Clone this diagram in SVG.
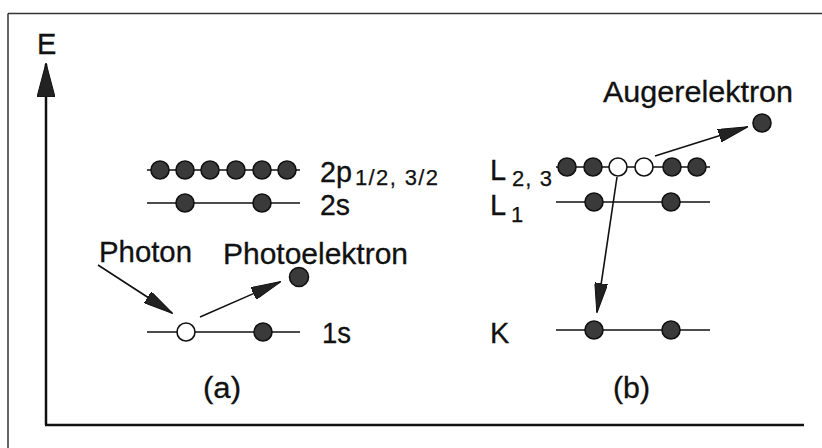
<svg xmlns="http://www.w3.org/2000/svg" width="822" height="448" viewBox="0 0 822 448">
  <style>
    .txt { font-family: "Liberation Sans", Arial, sans-serif; font-size: 29px; fill: #111; stroke: #111; stroke-width: 0.3; }
    .sub { font-family: "Liberation Sans", Arial, sans-serif; font-size: 22px; fill: #111; stroke: #111; stroke-width: 0.25; }
    .level { stroke: #111; stroke-width: 1.6; fill: none; }
    .full { fill: #3a3a3a; stroke: #111; stroke-width: 1.6; }
    .hole { fill: #fff; stroke: #111; stroke-width: 1.6; }
    .arrow { stroke: #111; stroke-width: 1.6; fill: none; marker-end: url(#head); }
  </style>
  <defs>
    <marker id="head" markerUnits="userSpaceOnUse" viewBox="0 0 30 13" refX="29" refY="6.5" markerWidth="30" markerHeight="13" orient="auto">
      <path d="M0,0 L30,6.5 L0,13 Z" fill="#222" stroke="#111" stroke-width="1"/>
    </marker>
    <marker id="axisHead" markerUnits="userSpaceOnUse" viewBox="0 0 34 18" refX="33" refY="9" markerWidth="34" markerHeight="18" orient="auto">
      <path d="M0,0 L34,9 L0,18 Z" fill="#222" stroke="#111" stroke-width="1"/>
    </marker>
  </defs>

  <rect width="822" height="448" fill="#fff"/>

  <!-- outer frame (top and left edges) -->
  <g id="frame" stroke="#333" stroke-width="1.5" fill="none">
    <line x1="8" y1="13.5" x2="822" y2="13.5"/>
    <line x1="8" y1="13.5" x2="8" y2="448"/>
  </g>

  <!-- energy axes -->
  <g id="axes" stroke="#111" stroke-width="2.5" fill="none">
    <line x1="46" y1="425" x2="46" y2="64" marker-end="url(#axisHead)"/>
    <line x1="45" y1="425" x2="804" y2="425"/>
  </g>
  <text id="label-E" class="txt" x="37" y="54">E</text>

  <!-- (a) photoemission -->
  <g id="level-2p">
    <line class="level" x1="147" y1="170" x2="300" y2="170"/>
    <circle class="full" cx="160" cy="170" r="9"/>
    <circle class="full" cx="185" cy="170" r="9"/>
    <circle class="full" cx="210" cy="170" r="9"/>
    <circle class="full" cx="236" cy="170" r="9"/>
    <circle class="full" cx="262" cy="170" r="9"/>
    <circle class="full" cx="287" cy="170" r="9"/>
    <text class="txt" x="320" y="182" textLength="32" lengthAdjust="spacingAndGlyphs">2p</text>
    <text class="sub" x="355" y="185" textLength="83" lengthAdjust="spacing">1/2, 3/2</text>
  </g>
  <g id="level-2s">
    <line class="level" x1="147" y1="203" x2="300" y2="203"/>
    <circle class="full" cx="185" cy="203" r="9"/>
    <circle class="full" cx="262" cy="203" r="9"/>
    <text class="txt" x="320" y="215" textLength="30" lengthAdjust="spacingAndGlyphs">2s</text>
  </g>
  <g id="level-1s">
    <line class="level" x1="147" y1="332" x2="300" y2="332"/>
    <circle class="hole" cx="186" cy="332" r="9"/>
    <circle class="full" cx="263" cy="332" r="9"/>
    <text class="txt" x="322" y="343" textLength="29" lengthAdjust="spacingAndGlyphs">1s</text>
  </g>
  <g id="photon">
    <text class="txt" x="99" y="262" textLength="93" lengthAdjust="spacingAndGlyphs">Photon</text>
  </g>
  <g id="photoelectron">
    <text class="txt" x="223" y="264" textLength="185" lengthAdjust="spacingAndGlyphs">Photoelektron</text>
    <circle class="full" cx="299" cy="277" r="9.5"/>
  </g>
  <text id="label-a" class="txt" x="203" y="398" textLength="38" lengthAdjust="spacingAndGlyphs">(a)</text>

  <!-- (b) Auger process -->
  <g id="level-L23">
    <line class="level" x1="556" y1="167" x2="710" y2="167"/>
    <circle class="full" cx="567" cy="167" r="9"/>
    <circle class="full" cx="593" cy="167" r="9"/>
    <circle class="hole" cx="618" cy="167" r="9"/>
    <circle class="hole" cx="644" cy="167" r="9"/>
    <circle class="full" cx="672" cy="167" r="9"/>
    <circle class="full" cx="697" cy="167" r="9"/>
    <text class="txt" x="490" y="180">L</text>
    <text class="sub" x="512" y="186" textLength="40" lengthAdjust="spacing">2, 3</text>
  </g>
  <g id="level-L1">
    <line class="level" x1="556" y1="202" x2="710" y2="202"/>
    <circle class="full" cx="594" cy="202" r="9"/>
    <circle class="full" cx="671" cy="202" r="9"/>
    <text class="txt" x="490" y="215">L</text>
    <text class="sub" x="511" y="222">1</text>
  </g>
  <g id="level-K">
    <line class="level" x1="556" y1="330" x2="710" y2="330"/>
    <circle class="full" cx="594" cy="330" r="9"/>
    <circle class="full" cx="671" cy="330" r="9"/>
    <text class="txt" x="490" y="343">K</text>
  </g>
  <g id="auger-electron">
    <text class="txt" x="603" y="102" textLength="190" lengthAdjust="spacingAndGlyphs">Augerelektron</text>
    <circle class="full" cx="762" cy="123" r="9"/>
  </g>
  <text id="label-b" class="txt" x="613" y="398" textLength="37" lengthAdjust="spacingAndGlyphs">(b)</text>

  <!-- transitions -->
  <g id="connectors">
    <line class="arrow" x1="98" y1="265" x2="172" y2="313"/>
    <line class="arrow" x1="200" y1="317" x2="280" y2="282"/>
    <line class="arrow" x1="617" y1="177" x2="597" y2="312"/>
    <line class="arrow" x1="655" y1="156" x2="747" y2="127"/>
  </g>
</svg>
